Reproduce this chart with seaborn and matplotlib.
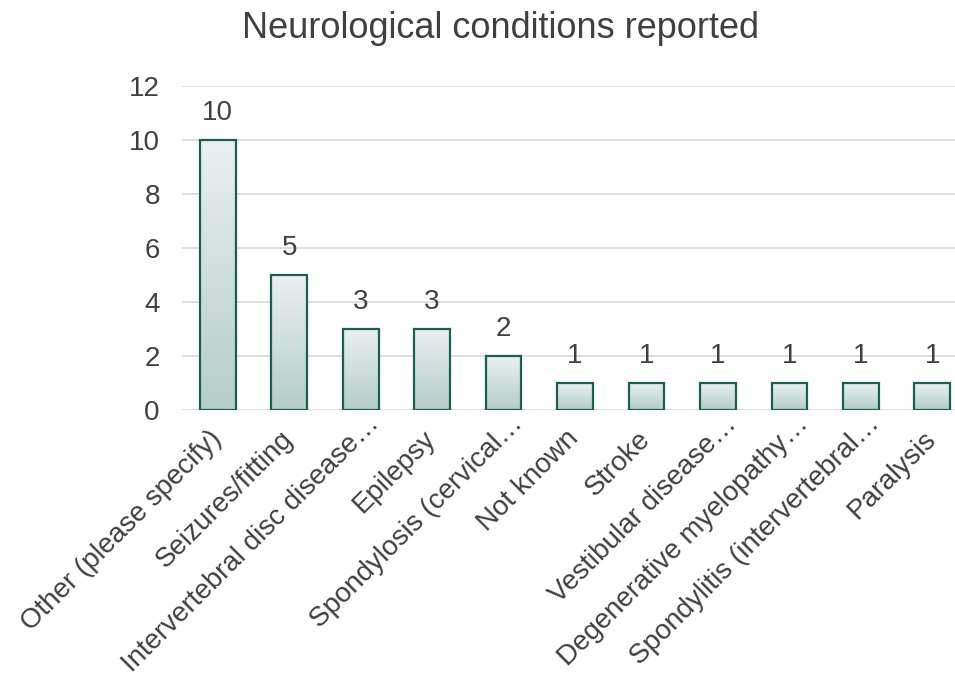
import numpy as np
import pandas as pd
import seaborn as sns
import matplotlib.pyplot as plt
from matplotlib.colors import LinearSegmentedColormap
from matplotlib.transforms import ScaledTranslation

conditions = [
    "Other (please specify)",
    "Seizures/fitting",
    "Intervertebral disc disease\u2026",
    "Epilepsy",
    "Spondylosis (cervical\u2026",
    "Not known",
    "Stroke",
    "Vestibular disease\u2026",
    "Degenerative myelopathy\u2026",
    "Spondylitis (intervertebral\u2026",
    "Paralysis",
]
counts = [10, 5, 3, 3, 2, 1, 1, 1, 1, 1, 1]

TEXT = "#404040"
EDGE = "#1b5e54"

sns.set_theme(style="white")
plt.rcParams["font.family"] = ["Liberation Sans", "DejaVu Sans"]

df = pd.DataFrame({"Condition": conditions, "Count": counts})

fig = plt.figure(figsize=(9.55, 6.73), dpi=100)
ax = fig.add_axes([182 / 955, 263 / 673, 786 / 955, 324 / 673])

sns.barplot(data=df, x="Condition", y="Count", ax=ax, width=0.5,
            color="white", edgecolor=EDGE, linewidth=1.6, zorder=3)

# gradient fill clipped to each bar
cmap = LinearSegmentedColormap.from_list("g", ["#b3cdc9", "#eaf0ef"])
grad = np.linspace(0, 1, 256).reshape(-1, 1)
for p in ax.patches:
    x0, y0 = p.get_x(), p.get_y()
    w, h = p.get_width(), p.get_height()
    im = ax.imshow(grad, cmap=cmap, origin="lower", aspect="auto",
                   extent=[x0, x0 + w, y0, y0 + h], zorder=2.5)
    im.set_clip_path(p)
    p.set_facecolor("none")

ax.set_xlim(-0.5, len(conditions) - 0.5)
ax.set_ylim(0, 12)
ax.set_yticks(range(0, 13, 2))
ax.yaxis.grid(True, color="#d9d9d9", linewidth=1.2, zorder=0)
ax.set_axisbelow(True)
for s in ax.spines.values():
    s.set_visible(False)

ax.bar_label(ax.containers[0], fmt="%d", padding=10, fontsize=20, color=TEXT)

ax.set_xlabel("")
ax.set_ylabel("")
ax.tick_params(axis="y", labelsize=20, labelcolor=TEXT, pad=16, length=0)
ax.tick_params(axis="x", labelsize=20, labelcolor=TEXT, pad=18, length=0)
plt.setp(ax.get_xticklabels(), rotation=45, ha="right", va="center",
         rotation_mode="anchor")

# truncated labels hang their ellipsis past the tick, like the original
shift = ScaledTranslation(0.15, 0.15, fig.dpi_scale_trans)
for lab in ax.get_xticklabels():
    if lab.get_text().endswith("\u2026"):
        lab.set_transform(lab.get_transform() + shift)

fig.text(500 / 955, 1 - 29 / 673, "Neurological conditions reported",
         ha="center", va="center", fontsize=26, color=TEXT)

fig.savefig("out.png", dpi=100)
